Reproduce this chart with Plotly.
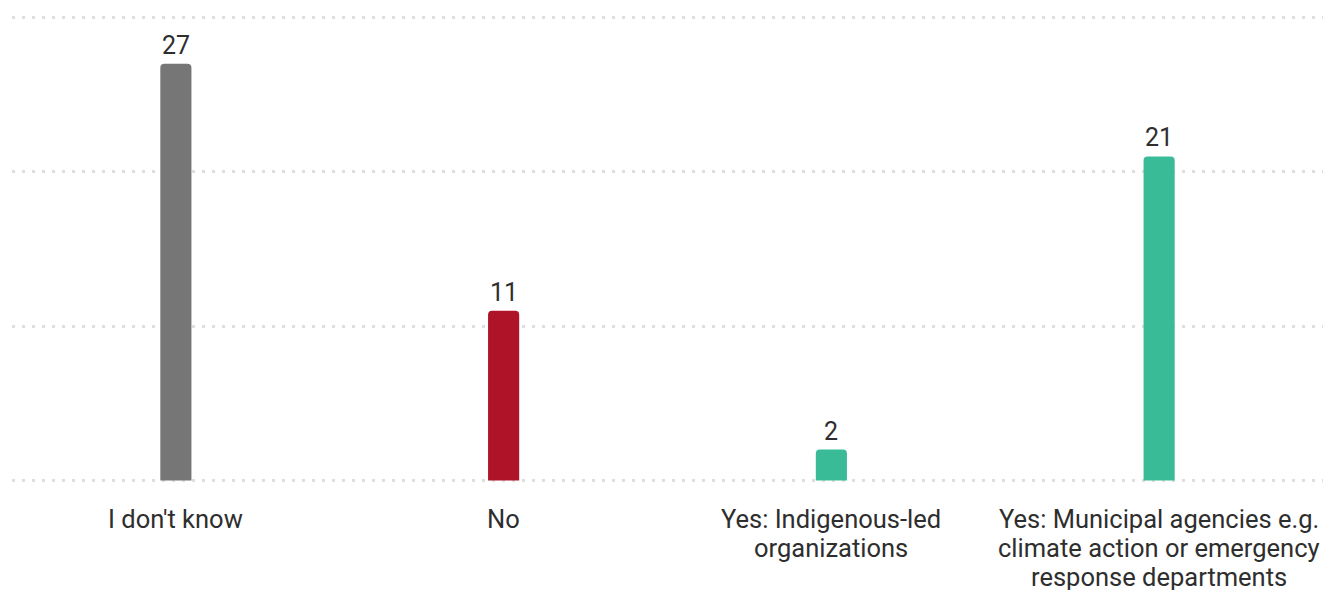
import plotly.graph_objects as go

# Survey responses
categories = [
    "I don't know",
    "No",
    "Yes: Indigenous-led organizations",
    "Yes: Municipal agencies e.g. climate action or emergency response departments",
]
category_lines = [
    ["I don't know"],
    ["No"],
    ["Yes: Indigenous-led", "organizations"],
    ["Yes: Municipal agencies e.g.", "climate action or emergency", "response departments"],
]
counts = [27, 11, 2, 21]
bar_colors = ["#767676", "#AE1328", "#3ABB98", "#3ABB98"]
y_ticks = [0, 10, 20, 30]

FONT = "Roboto"
TEXT_COLOR = "#2e2e2e"
LABEL_SIZE = 25.5
LINE_STEP = 29

fig = go.Figure(
    go.Bar(
        x=categories,
        y=counts,
        marker=dict(color=bar_colors, line=dict(width=0)),
        width=0.095,
        hoverinfo="x+y",
    )
)

# Value labels above each bar
for cat, val in zip(categories, counts):
    fig.add_annotation(
        x=cat, y=val, text=str(val), showarrow=False,
        yanchor="bottom", yshift=2,
        font=dict(family=FONT, size=25, color=TEXT_COLOR),
    )

# Category labels under the baseline, one annotation per line for tight leading
for cat, lines in zip(categories, category_lines):
    for i, line in enumerate(lines):
        fig.add_annotation(
            x=cat, y=0, text=line, showarrow=False,
            yanchor="middle", yshift=-38.5 - i * LINE_STEP,
            font=dict(family=FONT, size=LABEL_SIZE, color=TEXT_COLOR),
        )

fig.update_layout(
    width=1323, height=590,
    margin=dict(l=12, r=0, t=15.5, b=107.5),
    paper_bgcolor="white", plot_bgcolor="white",
    barcornerradius=4,
    showlegend=False,
    font=dict(family=FONT, size=22, color=TEXT_COLOR),
)
fig.update_xaxes(
    showline=False, showgrid=False, zeroline=False, showticklabels=False,
)
fig.update_yaxes(
    range=[-0.1, 30.1], tickvals=y_ticks, showticklabels=False,
    showgrid=True, gridcolor="#dedede", gridwidth=3, griddash="3px,7px",
    zeroline=False, showline=False,
)

fig.write_html("out.html")
